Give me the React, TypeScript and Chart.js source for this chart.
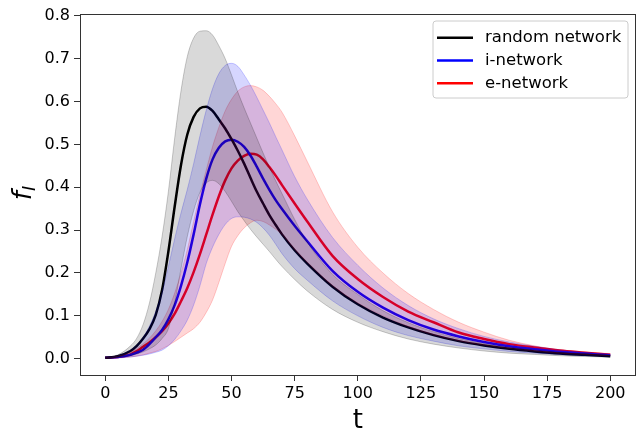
import React, { useEffect, useRef } from 'react';
import { Chart, registerables } from 'chart.js';

Chart.register(...registerables);

const T = [0, 5, 10, 12.5, 15, 17.5, 20, 22.5, 25, 27.5, 30, 32.5, 35, 37.5, 40, 42.5, 45, 47.5, 50, 52.5, 55, 57.5, 60, 62.5, 65, 67.5, 70, 75, 80, 90, 100, 110, 120, 130, 140, 150, 160, 170, 180, 190, 200];

const RANDOM_MEAN = [0.002, 0.006, 0.018, 0.03, 0.047, 0.069, 0.102, 0.16, 0.25, 0.355, 0.452, 0.523, 0.564, 0.584, 0.588, 0.578, 0.558, 0.537, 0.512, 0.485, 0.455, 0.422, 0.39, 0.362, 0.335, 0.312, 0.29, 0.253, 0.222, 0.168, 0.127, 0.096, 0.073, 0.055, 0.041, 0.031, 0.023, 0.017, 0.012, 0.009, 0.006];
const RANDOM_LOW = [0.001, 0.003, 0.007, 0.011, 0.016, 0.023, 0.032, 0.047, 0.07, 0.13, 0.21, 0.285, 0.345, 0.388, 0.41, 0.416, 0.408, 0.39, 0.367, 0.343, 0.322, 0.302, 0.284, 0.267, 0.25, 0.232, 0.215, 0.185, 0.158, 0.115, 0.085, 0.063, 0.046, 0.034, 0.025, 0.018, 0.013, 0.01, 0.007, 0.005, 0.004];
const RANDOM_HIGH = [0.003, 0.009, 0.03, 0.048, 0.08, 0.13, 0.2, 0.285, 0.39, 0.515, 0.625, 0.705, 0.748, 0.764, 0.765, 0.755, 0.73, 0.7, 0.662, 0.622, 0.585, 0.55, 0.515, 0.48, 0.447, 0.415, 0.385, 0.325, 0.272, 0.197, 0.15, 0.112, 0.084, 0.063, 0.047, 0.035, 0.026, 0.02, 0.015, 0.011, 0.008];

const I_MEAN = [0.002, 0.004, 0.009, 0.014, 0.021, 0.034, 0.05, 0.067, 0.092, 0.125, 0.17, 0.225, 0.29, 0.36, 0.42, 0.465, 0.492, 0.507, 0.511, 0.506, 0.494, 0.474, 0.448, 0.42, 0.394, 0.37, 0.349, 0.31, 0.274, 0.205, 0.156, 0.119, 0.09, 0.068, 0.052, 0.039, 0.029, 0.022, 0.016, 0.012, 0.008];
const I_LOW = [0.001, 0.002, 0.004, 0.006, 0.008, 0.011, 0.015, 0.02, 0.03, 0.045, 0.065, 0.09, 0.125, 0.17, 0.222, 0.26, 0.29, 0.313, 0.327, 0.331, 0.33, 0.326, 0.318, 0.305, 0.288, 0.267, 0.245, 0.21, 0.183, 0.135, 0.1, 0.073, 0.054, 0.041, 0.03, 0.023, 0.017, 0.013, 0.01, 0.007, 0.005];
const I_HIGH = [0.003, 0.007, 0.02, 0.032, 0.05, 0.076, 0.11, 0.155, 0.215, 0.28, 0.34, 0.395, 0.455, 0.52, 0.58, 0.63, 0.665, 0.684, 0.689, 0.682, 0.662, 0.638, 0.61, 0.58, 0.55, 0.518, 0.487, 0.425, 0.372, 0.283, 0.218, 0.165, 0.124, 0.093, 0.07, 0.052, 0.039, 0.029, 0.021, 0.015, 0.011];

const E_MEAN = [0.002, 0.004, 0.01, 0.018, 0.028, 0.038, 0.05, 0.064, 0.082, 0.105, 0.134, 0.165, 0.202, 0.244, 0.29, 0.336, 0.379, 0.416, 0.444, 0.462, 0.473, 0.478, 0.476, 0.465, 0.447, 0.427, 0.405, 0.362, 0.32, 0.24, 0.186, 0.144, 0.11, 0.085, 0.061, 0.046, 0.034, 0.026, 0.019, 0.014, 0.009];
const E_LOW = [0.001, 0.002, 0.004, 0.006, 0.009, 0.013, 0.017, 0.023, 0.031, 0.04, 0.05, 0.06, 0.07, 0.085, 0.108, 0.137, 0.178, 0.222, 0.262, 0.287, 0.305, 0.317, 0.323, 0.32, 0.312, 0.302, 0.29, 0.255, 0.225, 0.17, 0.13, 0.1, 0.075, 0.056, 0.042, 0.032, 0.024, 0.018, 0.013, 0.01, 0.007];
const E_HIGH = [0.003, 0.006, 0.015, 0.024, 0.035, 0.048, 0.065, 0.087, 0.115, 0.153, 0.2, 0.255, 0.32, 0.382, 0.44, 0.495, 0.54, 0.578, 0.605, 0.624, 0.634, 0.637, 0.634, 0.626, 0.612, 0.595, 0.575, 0.52, 0.46, 0.343, 0.26, 0.2, 0.152, 0.115, 0.085, 0.062, 0.043, 0.03, 0.02, 0.015, 0.012];

const X_TICKS = [0, 25, 50, 75, 100, 125, 150, 175, 200];
const Y_TICKS = [0, 0.1, 0.2, 0.3, 0.4, 0.5, 0.6, 0.7, 0.8];

const SERIES_NAMES = ['random network', 'i-network', 'e-network'];
const SERIES_COLORS = ['#000000', '#0000ff', '#ff0000'];
const BAND_FILLS = ['rgba(0,0,0,0.15)', 'rgba(0,0,255,0.16)', 'rgba(255,0,0,0.16)'];
const BAND_EDGES = ['rgba(0,0,0,0.2)', 'rgba(0,0,255,0.2)', 'rgba(255,0,0,0.2)'];

const FONT = '"DejaVu Sans", sans-serif';

const pts = (ys: number[]) => T.map((t, i) => ({ x: t, y: ys[i] }));

const overlayPlugin = {
  id: 'overlay',
  afterDraw(chart: any) {
    const ctx = chart.ctx as CanvasRenderingContext2D;
    const a = chart.chartArea;
    ctx.save();
    ctx.strokeStyle = '#333333';
    ctx.lineWidth = 1;
    ctx.strokeRect(Math.round(a.left) + 0.5, Math.round(a.top) + 0.5, Math.round(a.right - a.left) - 1, Math.round(a.bottom - a.top));

    const bx = 433, by = 21, bw = 195, bh = 77, r = 3;
    ctx.beginPath();
    ctx.moveTo(bx + r, by);
    ctx.lineTo(bx + bw - r, by);
    ctx.quadraticCurveTo(bx + bw, by, bx + bw, by + r);
    ctx.lineTo(bx + bw, by + bh - r);
    ctx.quadraticCurveTo(bx + bw, by + bh, bx + bw - r, by + bh);
    ctx.lineTo(bx + r, by + bh);
    ctx.quadraticCurveTo(bx, by + bh, bx, by + bh - r);
    ctx.lineTo(bx, by + r);
    ctx.quadraticCurveTo(bx, by, bx + r, by);
    ctx.closePath();
    ctx.fillStyle = 'rgba(255,255,255,0.8)';
    ctx.fill();
    ctx.strokeStyle = '#cccccc';
    ctx.lineWidth = 1;
    ctx.stroke();
    ctx.font = `16.5px ${FONT}`;
    ctx.textBaseline = 'alphabetic';
    ctx.textAlign = 'left';
    SERIES_NAMES.forEach((name, i) => {
      const ly = 37.7 + i * 22.8;
      ctx.strokeStyle = SERIES_COLORS[i];
      ctx.lineWidth = 2.5;
      ctx.beginPath();
      ctx.moveTo(437, ly);
      ctx.lineTo(473, ly);
      ctx.stroke();
      ctx.fillStyle = '#000000';
      ctx.fillText(name, 485, ly + 4.3);
    });

    ctx.font = `26px ${FONT}`;
    ctx.textAlign = 'center';
    ctx.fillStyle = '#000000';
    ctx.fillText('t', (a.left + a.right) / 2, 428);

    ctx.translate(31, 193);
    ctx.rotate(-Math.PI / 2);
    ctx.font = `italic 26px ${FONT}`;
    const wf = ctx.measureText('f').width;
    ctx.font = `italic 18px ${FONT}`;
    const wi = ctx.measureText('I').width;
    const x0 = -(wf + wi) / 2;
    ctx.textAlign = 'left';
    ctx.font = `italic 26px ${FONT}`;
    ctx.fillText('f', x0, 0);
    ctx.font = `italic 18px ${FONT}`;
    ctx.fillText('I', x0 + wf, 4);
    ctx.restore();
  },
};

export default function App() {
  const ref = useRef<HTMLCanvasElement | null>(null);

  useEffect(() => {
    if (!ref.current) return;
    const bands = [
      [RANDOM_LOW, RANDOM_HIGH],
      [I_LOW, I_HIGH],
      [E_LOW, E_HIGH],
    ];
    const means = [RANDOM_MEAN, I_MEAN, E_MEAN];
    const datasets: any[] = [];
    bands.forEach(([lo, hi], i) => {
      datasets.push({
        label: SERIES_NAMES[i] + ' low',
        data: pts(lo),
        borderColor: BAND_EDGES[i],
        borderWidth: 1,
        pointRadius: 0,
        fill: false,
        cubicInterpolationMode: 'monotone',
      });
      datasets.push({
        label: SERIES_NAMES[i] + ' high',
        data: pts(hi),
        borderColor: BAND_EDGES[i],
        backgroundColor: BAND_FILLS[i],
        borderWidth: 1,
        pointRadius: 0,
        fill: '-1',
        cubicInterpolationMode: 'monotone',
      });
    });
    means.forEach((m, i) => {
      datasets.push({
        label: SERIES_NAMES[i],
        data: pts(m),
        borderColor: SERIES_COLORS[i],
        borderWidth: 2.5,
        pointRadius: 0,
        fill: false,
        cubicInterpolationMode: 'monotone',
      });
    });

    const tickFont = { family: FONT, size: 16 };
    const chart = new Chart(ref.current, {
      type: 'line',
      data: { datasets },
      plugins: [overlayPlugin],
      options: {
        animation: false,
        responsive: false,
        maintainAspectRatio: false,
        layout: { padding: { top: 13, right: 1.5, left: 0, bottom: 0 } },
        plugins: {
          legend: { display: false },
          tooltip: { enabled: false },
        },
        scales: {
          x: {
            type: 'linear',
            min: -10,
            max: 210,
            afterBuildTicks: (s: any) => {
              s.ticks = X_TICKS.map((v) => ({ value: v }));
            },
            afterFit: (s: any) => {
              s.height = 54;
            },
            ticks: {
              font: tickFont,
              color: '#000000',
              padding: 3,
              maxRotation: 0,
              autoSkip: false,
              callback: (v: any) => String(v),
            },
            grid: { drawOnChartArea: false, drawTicks: true, tickLength: 6, color: '#333333' },
            border: { display: false },
          },
          y: {
            type: 'linear',
            min: -0.038,
            max: 0.805,
            afterBuildTicks: (s: any) => {
              s.ticks = Y_TICKS.map((v) => ({ value: v }));
            },
            afterFit: (s: any) => {
              s.width = 80;
            },
            ticks: {
              font: tickFont,
              color: '#000000',
              padding: 4,
              autoSkip: false,
              callback: (v: any) => Number(v).toFixed(1),
            },
            grid: { drawOnChartArea: false, drawTicks: true, tickLength: 6, color: '#333333' },
            border: { display: false },
          },
        },
      } as any,
    });
    return () => chart.destroy();
  }, []);

  return (
    <div style={{ position: 'absolute', left: 0, top: 0, width: 637, height: 429, background: '#fff' }}>
      <canvas ref={ref} width={637} height={429} style={{ width: 637, height: 429, display: 'block' }} />
    </div>
  );
}
